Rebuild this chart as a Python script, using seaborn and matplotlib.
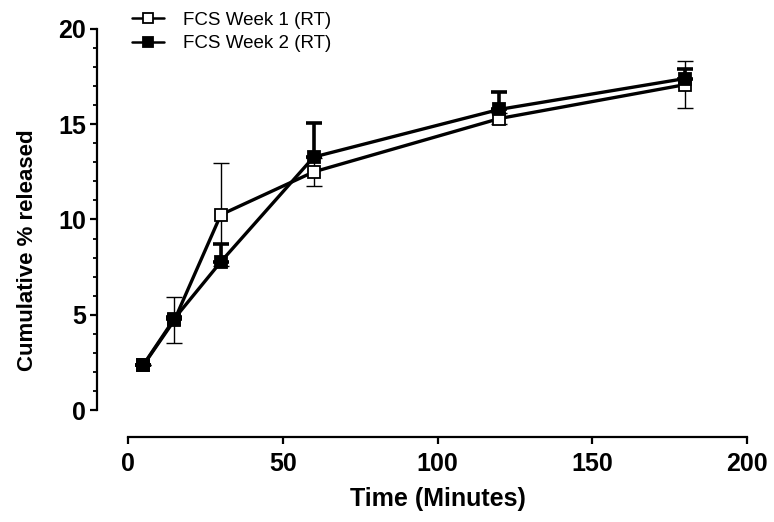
import numpy as np
import pandas as pd
import matplotlib
matplotlib.use("Agg")
import matplotlib.pyplot as plt
import seaborn as sns
from matplotlib.ticker import MultipleLocator

time_min = [5, 15, 30, 60, 120, 180]
week1 = [2.36, 4.72, 10.25, 12.5, 15.3, 17.08]
week1_err = [0.0, 1.2, 2.7, 0.72, 0.3, 1.22]
week2 = [2.38, 4.8, 7.78, 13.28, 15.78, 17.4]
week2_err = [0.0, 0.1, 0.93, 1.8, 0.9, 0.52]
labels = ["FCS Week 1 (RT)", "FCS Week 2 (RT)"]

sns.set_style("ticks", {"axes.edgecolor": "black", "text.color": "black",
                        "axes.labelcolor": "black", "xtick.color": "black",
                        "ytick.color": "black"})
plt.rcParams["font.family"] = ["Liberation Sans Narrow", "Liberation Sans", "DejaVu Sans"]

fig = plt.figure(figsize=(7.74, 5.22), dpi=100)
ax = fig.add_axes([128/774, (522-410)/522, (747-128)/774, (410-29)/522])

df = pd.DataFrame({
    "Time": time_min * 2,
    "Value": week1 + week2,
    "Series": [labels[0]] * len(time_min) + [labels[1]] * len(time_min),
})

# Week 1 error bars (symmetric, thin)
ax.errorbar(time_min, week1, yerr=week1_err, fmt="none", ecolor="black",
            elinewidth=1.0, capsize=5.5, capthick=1.0, zorder=2, clip_on=False)
# Week 2 error bars (upper only, thick)
ax.errorbar(time_min, week2, yerr=[np.zeros(len(week2_err)), week2_err], fmt="none",
            ecolor="black", elinewidth=2.6, capsize=5.5, capthick=2.6, zorder=4, clip_on=False)

sns.lineplot(data=df[df.Series == labels[0]], x="Time", y="Value", ax=ax,
             color="black", lw=2.4, marker="s", markersize=9,
             markerfacecolor="white", markeredgecolor="black", markeredgewidth=1.3,
             label=labels[0], zorder=3, clip_on=False)
sns.lineplot(data=df[df.Series == labels[1]], x="Time", y="Value", ax=ax,
             color="black", lw=2.4, marker="s", markersize=9,
             markerfacecolor="black", markeredgecolor="black", markeredgewidth=1.3,
             label=labels[1], zorder=5, clip_on=False)

ax.set_xlim(0, 200)
ax.set_ylim(0, 20)
ax.xaxis.set_major_locator(MultipleLocator(50))
ax.yaxis.set_major_locator(MultipleLocator(5))
ax.yaxis.set_minor_locator(MultipleLocator(1))

for s in ["top", "right"]:
    ax.spines[s].set_visible(False)
ax.spines["left"].set_position(("outward", 22))
ax.spines["bottom"].set_position(("outward", 19.5))
ax.spines["left"].set_bounds(0, 20)
ax.spines["bottom"].set_bounds(0, 200)
for s in ["left", "bottom"]:
    ax.spines[s].set_linewidth(1.6)
    ax.spines[s].set_color("black")

ax.tick_params(axis="both", which="major", length=5, width=1.6, direction="out",
               labelsize=18, color="black", labelcolor="black")
ax.tick_params(axis="x", which="major", pad=6)
ax.tick_params(axis="y", which="major", pad=3)
ax.tick_params(axis="y", which="minor", length=3, width=1.3, direction="out", color="black")
ax.tick_params(axis="x", which="minor", length=0)
for lab in ax.get_xticklabels() + ax.get_yticklabels():
    lab.set_fontweight("bold")

ax.set_xlabel("Time (Minutes)", fontsize=18, fontweight="bold", labelpad=8, color="black")
ax.set_ylabel("Cumulative % released", fontsize=16, fontweight="bold", color="black")
ax.yaxis.set_label_coords(-0.145, 0.42)

leg = ax.legend(loc="upper left", bbox_to_anchor=(-0.02, 1.09), frameon=False,
                prop={"family": ["Liberation Sans", "DejaVu Sans"], "size": 13.5},
                handlelength=1.7, handletextpad=1.0, labelspacing=0.35)
for t in leg.get_texts():
    t.set_color("black")
for h in leg.legend_handles:
    h.set_markersize(7)
    h.set_linewidth(1.8)

fig.savefig("out.png", dpi=100)
